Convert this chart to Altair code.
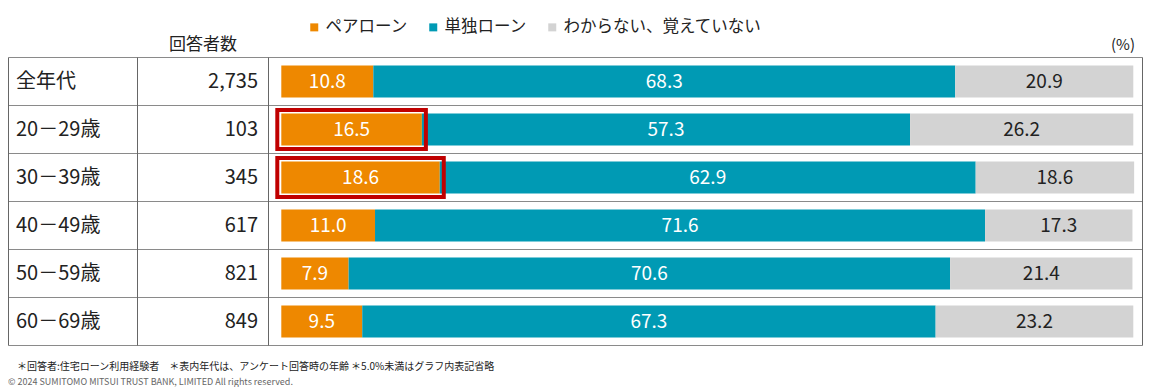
import altair as alt
import pandas as pd

FONT = "Noto Sans CJK JP"

ages = ["全年代", "20－29歳", "30－39歳", "40－49歳", "50－59歳", "60－69歳"]
counts = ["2,735", "103", "345", "617", "821", "849"]
series = ["ペアローン", "単独ローン", "わからない、覚えていない"]
colors = ["#EE8800", "#009AB4", "#D3D3D3"]
pair = [10.8, 16.5, 18.6, 11.0, 7.9, 9.5]
single = [68.3, 57.3, 62.9, 71.6, 70.6, 67.3]
unknown = [20.9, 26.2, 18.6, 17.3, 21.4, 23.2]
highlight = ["20－29歳", "30－39歳"]
header_n = "回答者数"
unit = "(%)"
footnote = "＊回答者:住宅ローン利用経験者　＊表内年代は、アンケート回答時の年齢 ＊5.0%未満はグラフ内表記省略"
copyright_txt = "© 2024 SUMITOMO MITSUI TRUST BANK, LIMITED All rights reserved."

rows = []
for i, a in enumerate(ages):
    start = 0.0
    for j, (s, vals) in enumerate(zip(series, [pair, single, unknown])):
        v = vals[i]
        rows.append({"age": a, "series": s, "idx": j, "value": v,
                     "start": start, "end": start + v, "mid": start + v / 2,
                     "label": f"{v:.1f}" if v >= 5.0 else ""})
        start += v
df = pd.DataFrame(rows)
df_rows = pd.DataFrame({"age": ages, "n": counts})
df_hl = df[(df["series"] == series[0]) & (df["age"].isin(highlight))]

xscale = alt.Scale(domain=[0, 100], range=[273.3, 1125.3])
yscale = alt.Scale(domain=ages, range=[49.5, 337.5], paddingInner=0, paddingOuter=0)
Y = alt.Y("age:N", scale=yscale, axis=None)

base_rows = alt.Chart(df_rows)

hlines_top = base_rows.mark_rule(color="#8a8a8a", strokeWidth=1).encode(
    y=alt.Y("age:N", scale=yscale, axis=None, bandPosition=0),
    x=alt.value(0.5), x2=alt.value(1134.5))
hlines_bot = base_rows.mark_rule(color="#8a8a8a", strokeWidth=1).encode(
    y=alt.Y("age:N", scale=yscale, axis=None, bandPosition=1),
    x=alt.value(0.5), x2=alt.value(1134.5))

vcols = pd.DataFrame({"xp": [0.5, 129.5, 260.5, 1134.5]})
vlines = alt.Chart(vcols).mark_rule(color="#666666", strokeWidth=1).encode(
    x=alt.X("xp:Q", scale=None, axis=None),
    y=alt.value(49.5), y2=alt.value(337.5))

bars = alt.Chart(df).mark_bar(height=32).encode(
    x=alt.X("start:Q", scale=xscale, axis=None),
    x2="end:Q",
    y=Y,
    color=alt.Color("series:N", scale=alt.Scale(domain=series, range=colors),
                    sort=series,
                    legend=alt.Legend(orient="none", legendX=298, legendY=11,
                                      direction="horizontal", title=None,
                                      symbolType="square", symbolSize=64,
                                      symbolStrokeWidth=0, labelFontSize=16.5,
                                      labelFont=FONT, labelColor="#222222",
                                      labelLimit=400,
                                      labelOffset=3, columnPadding=17, padding=0)),
    order=alt.Order("idx:Q"),
)

labels = alt.Chart(df).mark_text(font=FONT, fontSize=19, baseline="middle").encode(
    x=alt.X("mid:Q", scale=xscale, axis=None),
    y=Y,
    text="label:N",
    color=alt.condition(alt.datum.idx == 2, alt.value("#222222"), alt.value("#ffffff")),
)

boxes = alt.Chart(df_hl).mark_bar(height=39, fillOpacity=0, stroke="#C00000",
                                  strokeWidth=4, xOffset=-4, x2Offset=4).encode(
    x=alt.X("start:Q", scale=xscale, axis=None),
    x2="end:Q",
    y=Y,
)

row_lbl = base_rows.mark_text(font=FONT, fontSize=20, align="left", baseline="middle",
                              color="#222222").encode(
    x=alt.value(8), y=Y, text="age:N")
n_lbl = base_rows.mark_text(font=FONT, fontSize=20, align="right", baseline="middle",
                            color="#222222").encode(
    x=alt.value(250), y=Y, text="n:N")

hdr = alt.Chart(pd.DataFrame({"t": [header_n]})).mark_text(
    font=FONT, fontSize=17, align="center", baseline="middle", color="#222222").encode(
    x=alt.value(195), y=alt.value(37), text="t:N")
pct = alt.Chart(pd.DataFrame({"t": [unit]})).mark_text(
    font=FONT, fontSize=15, align="center", baseline="middle", color="#222222").encode(
    x=alt.value(1115), y=alt.value(37), text="t:N")
fn = alt.Chart(pd.DataFrame({"t": [footnote]})).mark_text(
    font=FONT, fontSize=10, align="left", baseline="middle", color="#222222").encode(
    x=alt.value(9), y=alt.value(359), text="t:N")
cp = alt.Chart(pd.DataFrame({"t": [copyright_txt]})).mark_text(
    font=FONT, fontSize=9, align="left", baseline="middle", color="#666666").encode(
    x=alt.value(0), y=alt.value(374), text="t:N")

chart = alt.layer(
    hlines_top, hlines_bot, vlines, bars, labels, boxes, row_lbl, n_lbl, hdr, pct, fn, cp
).properties(
    width=1135, height=379, autosize=alt.AutoSizeParams(type="none"), padding=0
).configure_view(stroke=None)

chart.save("out.html", embed_options={"renderer": "svg", "actions": False})
